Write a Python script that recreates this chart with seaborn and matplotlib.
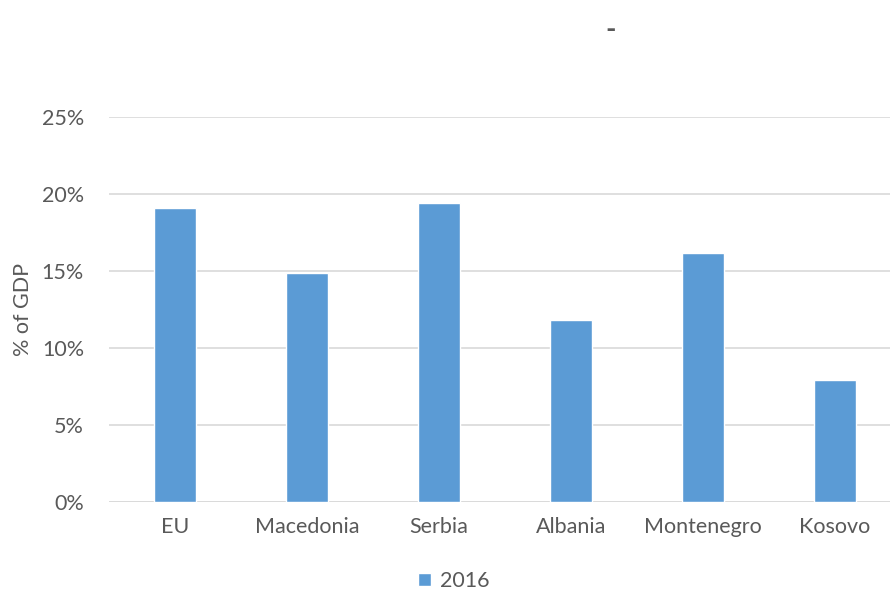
import matplotlib
matplotlib.use("Agg")
import matplotlib.pyplot as plt
import seaborn as sns
import pandas as pd
from matplotlib.patches import Patch
from matplotlib.ticker import FuncFormatter

countries = ["EU", "Macedonia", "Serbia", "Albania", "Montenegro", "Kosovo"]
share_2016 = [19.1, 14.9, 19.4, 11.8, 16.2, 7.9]
y_ticks = [0, 5, 10, 15, 20, 25]
series_label = "2016"

df = pd.DataFrame({"country": countries, "value": share_2016})

sns.set_theme(style="white")
plt.rcParams["font.family"] = ["Lato", "DejaVu Sans"]

text_color = "#595959"
bar_color = "#5B9BD5"
grid_color = "#D9D9D9"

fig = plt.figure(figsize=(8.9, 5.93), dpi=100)
ax = fig.add_axes([0.1225, 0.1535, 0.89, 0.6492])

sns.barplot(data=df, x="country", y="value", color=bar_color,
            width=0.32, saturation=1, ax=ax, zorder=3)

ax.set_ylim(0, 25)
ax.set_yticks(y_ticks)
ax.yaxis.set_major_formatter(FuncFormatter(lambda v, p: f"{v:.0f}%"))
ax.grid(axis="y", color=grid_color, linewidth=1.2, zorder=0)
for s in ax.spines.values():
    s.set_visible(False)
ax.axhline(0, color=grid_color, linewidth=1.2, zorder=1)

ax.tick_params(axis="both", length=0, labelsize=15.5, labelcolor=text_color)
ax.tick_params(axis="y", pad=18)
ax.tick_params(axis="x", pad=11)
ax.set_xlabel("")
ax.set_ylabel("% of GDP", fontsize=15.5, color=text_color, labelpad=6)

fig.text(0.6865, 0.95, "-", ha="center", va="center", fontsize=20,
         fontweight="bold", color=text_color)

fig.legend(handles=[Patch(facecolor=bar_color, label=series_label)],
           loc="center", bbox_to_anchor=(0.51, 0.02), frameon=False,
           fontsize=15.5, handlelength=0.6, handleheight=0.6, handletextpad=0.4,
           labelcolor=text_color)

fig.savefig("out.png", dpi=100)
